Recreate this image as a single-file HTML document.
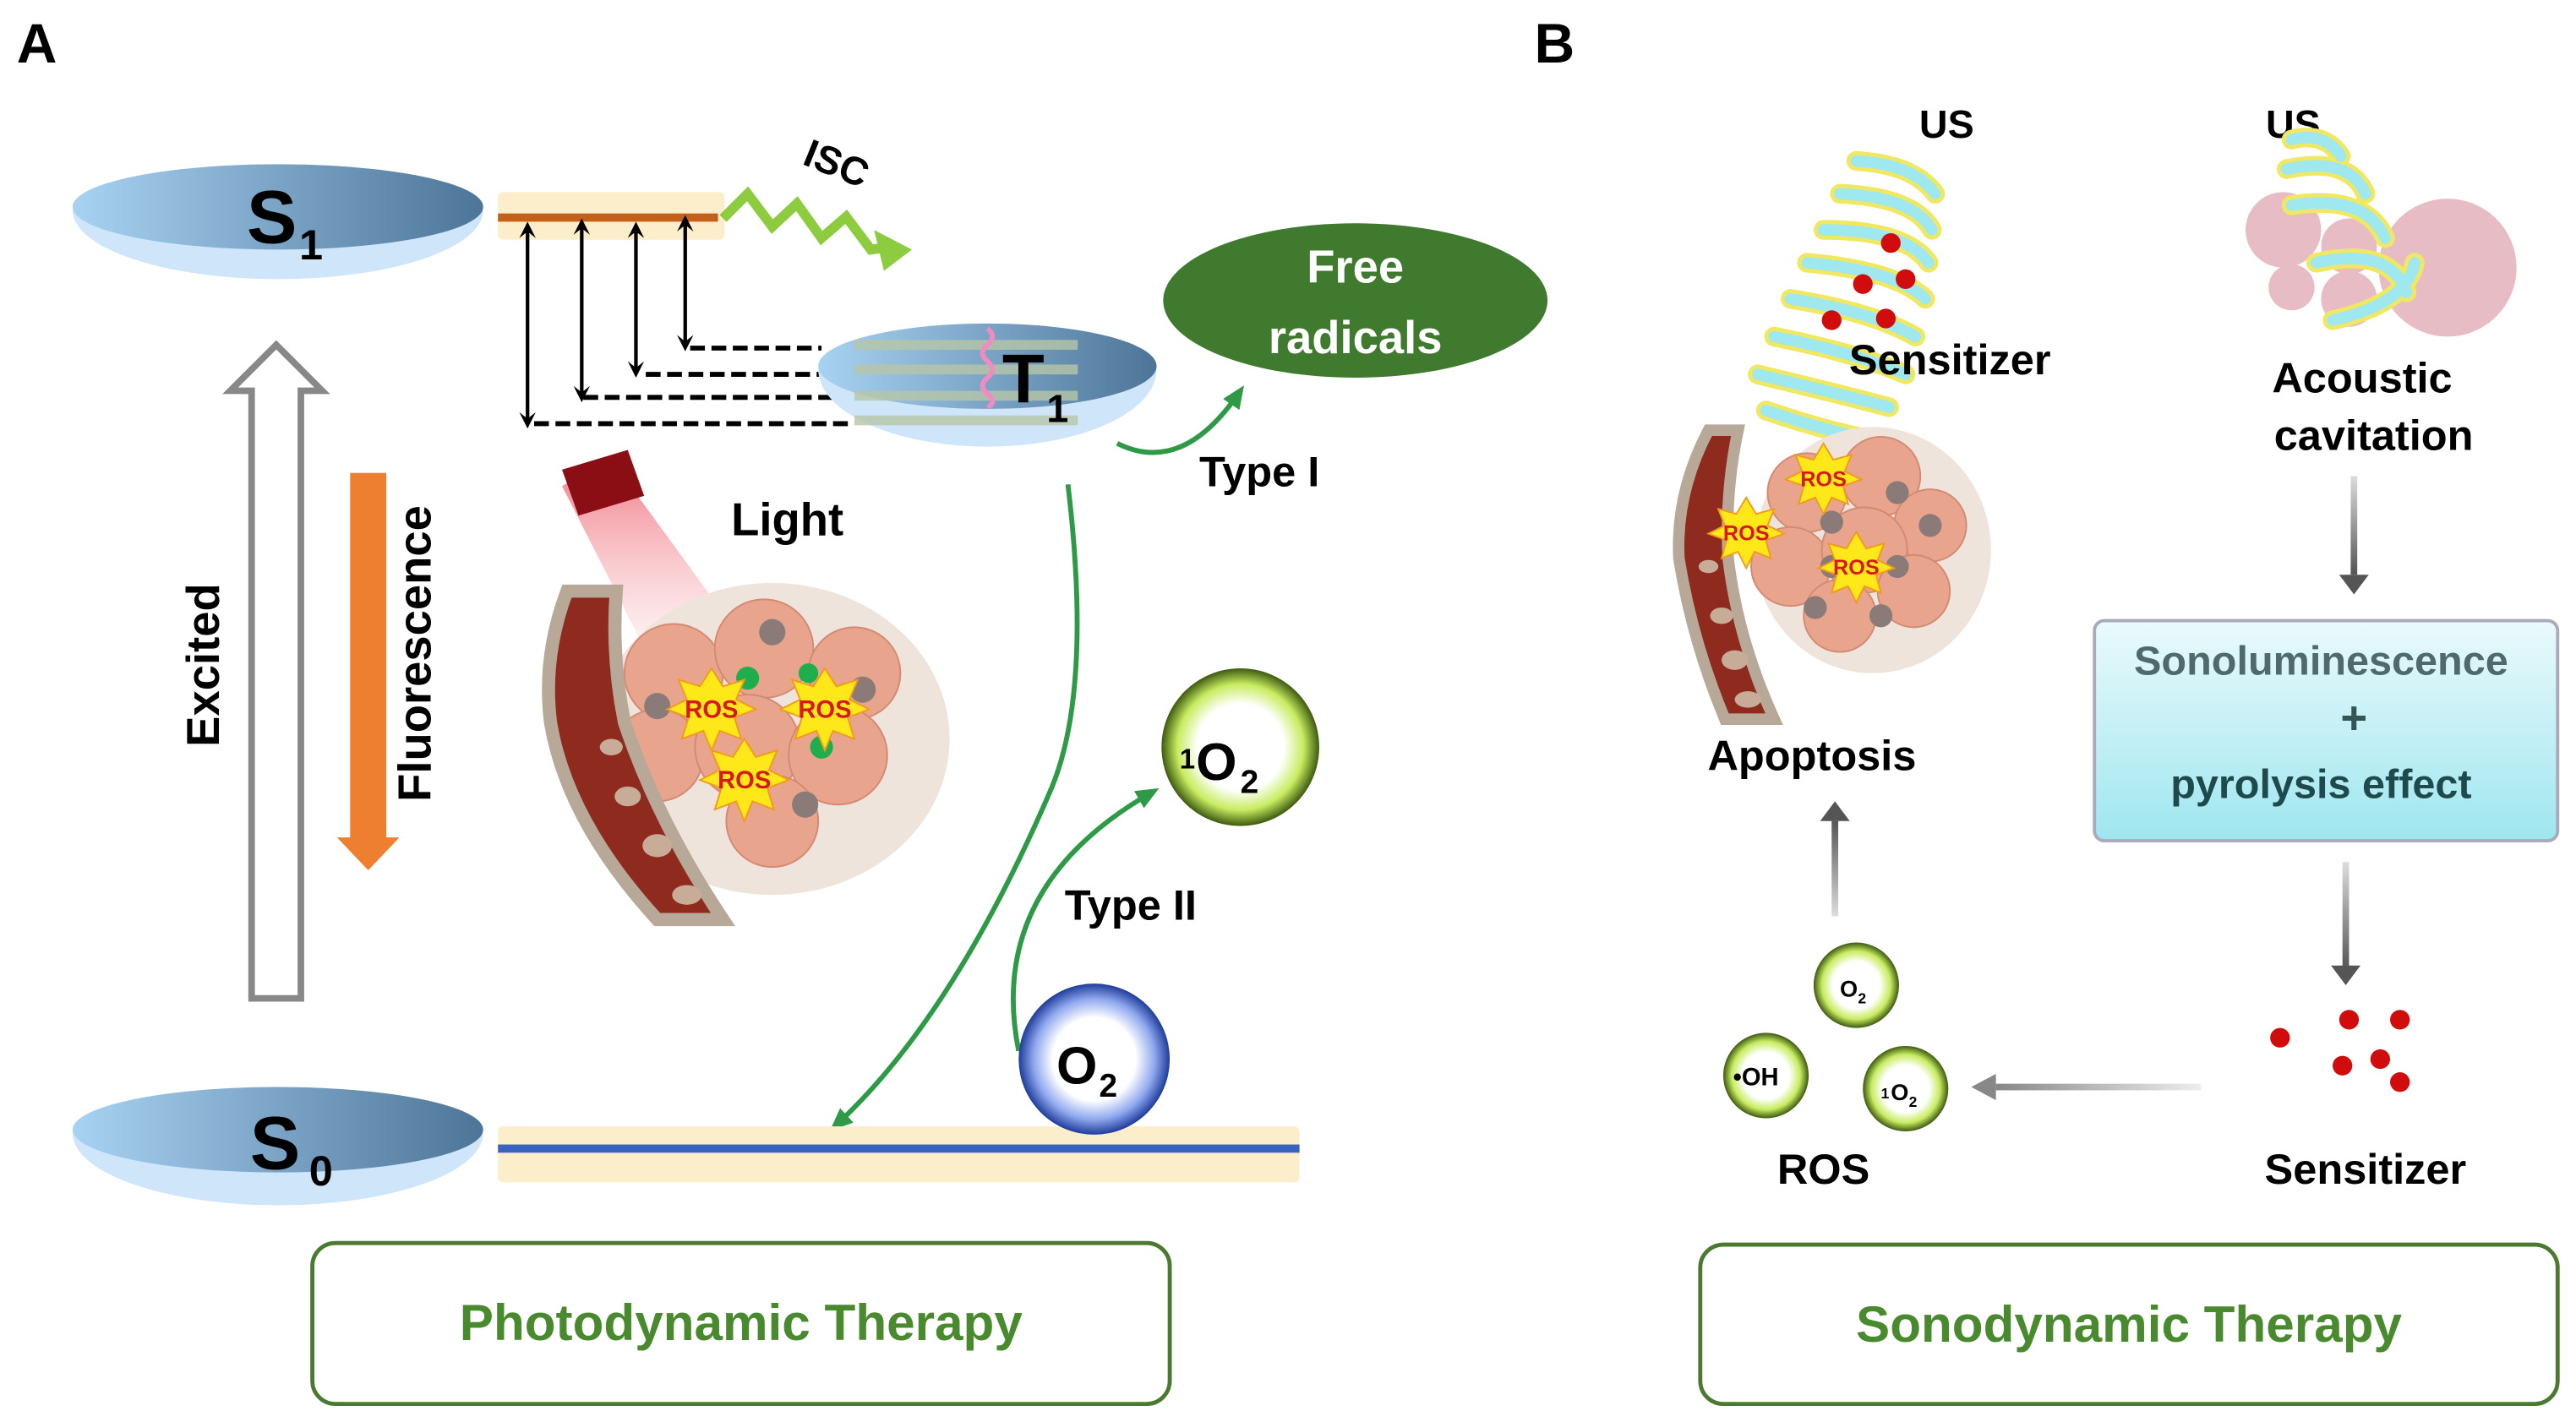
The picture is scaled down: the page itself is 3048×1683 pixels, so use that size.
<!DOCTYPE html>
<html><head><meta charset="utf-8"><style>
html,body{margin:0;padding:0;background:#fff;}
svg{display:block;}
text{font-family:"Liberation Sans",sans-serif;font-weight:bold;}
</style></head><body>
<svg width="3048" height="1683" viewBox="0 0 1568 866" xmlns="http://www.w3.org/2000/svg">
<defs>
<linearGradient id="eg" x1="0" x2="1"><stop offset="0" stop-color="#a8d2f2"/><stop offset="1" stop-color="#4d7598"/></linearGradient>
<radialGradient id="gs" cx="0.5" cy="0.5" r="0.5"><stop offset="0.55" stop-color="#fff"/><stop offset="0.8" stop-color="#c8ec60"/><stop offset="1" stop-color="#3d5a10"/></radialGradient>
<radialGradient id="bs" cx="0.5" cy="0.5" r="0.5"><stop offset="0.55" stop-color="#fff"/><stop offset="0.8" stop-color="#8fa8ef"/><stop offset="1" stop-color="#1f3c9a"/></radialGradient>
<linearGradient id="box" x1="0" y1="0" x2="0" y2="1"><stop offset="0" stop-color="#eafafc"/><stop offset="1" stop-color="#9fe6ef"/></linearGradient>
<linearGradient id="ga" x1="0" y1="0" x2="0" y2="1"><stop offset="0" stop-color="#ddd"/><stop offset="1" stop-color="#555"/></linearGradient>
<linearGradient id="gl" x1="1" y1="0" x2="0" y2="0"><stop offset="0" stop-color="#eee"/><stop offset="1" stop-color="#888"/></linearGradient>
<linearGradient id="beam" x1="0" y1="0" x2="0" y2="1"><stop offset="0" stop-color="#f07a85"/><stop offset="1" stop-color="#fde6e8" stop-opacity="0.3"/></linearGradient>
<marker id="ah" markerWidth="10" markerHeight="10" refX="5" refY="5" orient="auto-start-reverse" markerUnits="userSpaceOnUse"><path d="M0,0 L10,5 L0,10 L4,5 z" fill="#000"/></marker>
<marker id="gh" markerWidth="14" markerHeight="12" refX="10" refY="6" orient="auto" markerUnits="userSpaceOnUse"><path d="M0,0 L14,6 L0,12 z" fill="#2e9a48"/></marker>
</defs>

<text x="10" y="38" font-size="34">A</text>
<text x="934" y="38" font-size="34">B</text>

<path d="M44,128 A125,42 0 0 0 294,128 Z" fill="#cfe6fa"/>
<ellipse cx="169" cy="126" rx="125" ry="26" fill="url(#eg)"/>
<text x="150" y="148" font-size="46">S</text><text x="182" y="158" font-size="26">1</text>
<path d="M44,690 A125,44 0 0 0 294,690 Z" fill="#cfe6fa"/>
<ellipse cx="169" cy="688" rx="125" ry="26" fill="url(#eg)"/>
<text x="152" y="712" font-size="46">S</text><text x="188" y="722" font-size="26">0</text>

<rect x="303" y="117" width="138" height="29" rx="3" fill="#fdeecb"/>
<rect x="303" y="130" width="134" height="5" fill="#c4601a"/>
<path d="M440,133 L455,118 L470,138 L485,124 L500,145 L515,132 L530,152 L545,150" fill="none" stroke="#8ccc3e" stroke-width="6"/>
<path d="M532,140 L555,152 L538,165 z" fill="#8ccc3e"/>
<text x="485" y="107" font-size="24" transform="rotate(22 505 110)">ISC</text>

<g stroke="#000" stroke-width="2.2" marker-start="url(#ah)" marker-end="url(#ah)">
<line x1="321" y1="140" x2="321" y2="256"/>
<line x1="354" y1="138" x2="354" y2="240"/>
<line x1="387" y1="140" x2="387" y2="225"/>
<line x1="417" y1="136" x2="417" y2="209"/>
</g>
<g stroke="#000" stroke-width="3" stroke-dasharray="9,4">
<line x1="325" y1="258" x2="518" y2="258"/>
<line x1="355" y1="242" x2="512" y2="242"/>
<line x1="393" y1="228" x2="505" y2="228"/>
<line x1="420" y1="212" x2="500" y2="212"/>
</g>
<path d="M498,225 A103,47 0 0 0 704,225 Z" fill="#cfe6fa"/>
<ellipse cx="601" cy="223" rx="103" ry="26" fill="url(#eg)"/>
<g fill="#b7c6a8" opacity="0.8">
<rect x="520" y="207" width="136" height="6"/><rect x="520" y="222" width="136" height="6"/><rect x="520" y="238" width="136" height="6"/><rect x="520" y="253" width="136" height="6"/>
</g>
<path d="M601,200 q6,5 0,10 q-6,5 0,10 q6,5 0,10 q-6,5 0,10 q6,5 0,8" fill="none" stroke="#f08cc0" stroke-width="3"/>
<text x="610" y="245" font-size="42">T</text><text x="637" y="257" font-size="24">1</text>

<ellipse cx="825" cy="183" rx="117" ry="47" fill="#3f7a2e"/>
<text x="825" y="172" font-size="28" fill="#fff" text-anchor="middle">Free</text>
<text x="825" y="215" font-size="28" fill="#fff" text-anchor="middle">radicals</text>
<path d="M680,270 Q720,290 755,238" fill="none" stroke="#2e9a48" stroke-width="3" marker-end="url(#gh)"/>
<text x="730" y="296" font-size="26">Type I</text>

<path d="M650,295 Q665,420 640,480 Q580,620 508,686" fill="none" stroke="#2e9a48" stroke-width="3" marker-end="url(#gh)"/>
<path d="M620,640 Q600,540 702,482" fill="none" stroke="#2e9a48" stroke-width="3" marker-end="url(#gh)"/>
<text x="648" y="560" font-size="26">Type II</text>

<circle cx="755" cy="455" r="48" fill="url(#gs)"/>
<text x="718" y="468" font-size="17">1</text><text x="728" y="475" font-size="32">O</text><text x="755" y="483" font-size="20">2</text>
<rect x="303" y="686" width="488" height="34" rx="3" fill="#fdeecb"/>
<rect x="303" y="697" width="488" height="5" fill="#3a62c0"/>
<circle cx="666" cy="645" r="46" fill="url(#bs)"/>
<text x="643" y="660" font-size="32">O</text><text x="669" y="668" font-size="20">2</text>

<path d="M153,608 L153,238 L140,238 L168,210 L196,238 L183,238 L183,608 Z" fill="#fff" stroke="#888" stroke-width="4"/>
<text x="0" y="0" font-size="28" transform="translate(133,405) rotate(-90)" text-anchor="middle">Excited</text>
<rect x="213" y="288" width="22" height="225" fill="#ee7f30"/>
<path d="M205,510 L243,510 L224,530 z" fill="#ee7f30"/>
<text x="0" y="0" font-size="28" transform="translate(262,398) rotate(-90)" text-anchor="middle">Fluorescence</text>

<path d="M342,296 L372,280 L445,380 L400,410 Z" fill="url(#beam)"/>
<path d="M342,286 L382,274 L392,302 L352,314 Z" fill="#8a0e14"/>
<text x="445" y="326" font-size="28">Light</text>
<ellipse cx="470" cy="450" rx="108" ry="95" fill="#efe4dc"/>
<g fill="#e8a48c" stroke="#d48a72" stroke-width="1">
<circle cx="410" cy="410" r="30"/><circle cx="465" cy="395" r="30"/><circle cx="520" cy="410" r="28"/>
<circle cx="400" cy="460" r="28"/><circle cx="455" cy="455" r="32"/><circle cx="510" cy="460" r="30"/><circle cx="470" cy="500" r="28"/>
</g>
<g fill="#8a7a78"><circle cx="400" cy="430" r="8"/><circle cx="470" cy="385" r="8"/><circle cx="525" cy="420" r="8"/><circle cx="385" cy="470" r="8"/><circle cx="490" cy="490" r="8"/><circle cx="445" cy="480" r="7"/></g>
<g fill="#1fae4c"><circle cx="455" cy="413" r="7"/><circle cx="500" cy="455" r="7"/><circle cx="492" cy="410" r="6"/></g>
<path d="M345,360 Q330,400 335,440 Q345,500 400,560 L440,560 Q400,500 380,440 Q372,400 375,360 Z" fill="#8e2a1e" stroke="#b8a898" stroke-width="8"/>
<g fill="#c8ac98"><ellipse cx="372" cy="455" rx="7" ry="5"/><ellipse cx="382" cy="485" rx="8" ry="6"/><ellipse cx="400" cy="515" rx="9" ry="7"/><ellipse cx="418" cy="545" rx="9" ry="6"/></g>
<g font-size="15" fill="#d5191c" text-anchor="middle">
<polygon points="433,407 440,418 453,414 448,426 460,432 447,437 451,450 438,445 433,457 428,445 415,450 419,437 406,432 418,426 413,414 426,418" fill="#ffe81a" stroke="#f39a1a"/><text x="433" y="437">ROS</text>
<polygon points="502,407 509,418 522,414 517,426 529,432 516,437 520,450 507,445 502,457 497,445 484,450 488,437 475,432 487,426 482,414 495,418" fill="#ffe81a" stroke="#f39a1a"/><text x="502" y="437">ROS</text>
<polygon points="453,450 460,461 473,457 468,469 480,475 467,480 471,493 458,488 453,500 448,488 435,493 439,480 426,475 438,469 433,457 446,461" fill="#ffe81a" stroke="#f39a1a"/><text x="453" y="480">ROS</text>
</g>

<rect x="190" y="757" width="522" height="98" rx="14" fill="#fff" stroke="#4a7a30" stroke-width="2.5"/>
<text x="451" y="816" font-size="31" fill="#4a8a2e" text-anchor="middle">Photodynamic Therapy</text>

<text x="1185" y="84" font-size="24" text-anchor="middle">US</text>
<text x="1396" y="84" font-size="24" text-anchor="middle">US</text>
<g fill="none" stroke="#f0e860" stroke-width="12" stroke-linecap="round">
<path d="M1130,98 Q1165,100 1178,118"/><path d="M1120,118 Q1165,120 1176,140"/><path d="M1110,140 Q1160,140 1174,160"/><path d="M1100,160 Q1155,165 1172,182"/><path d="M1090,182 Q1140,190 1166,205"/><path d="M1080,205 Q1130,215 1160,228"/><path d="M1070,228 Q1120,240 1150,248"/><path d="M1075,250 Q1110,262 1140,268"/></g>
<g fill="none" stroke="#9fe8ef" stroke-width="7" stroke-linecap="round">
<path d="M1130,98 Q1165,100 1178,118"/><path d="M1120,118 Q1165,120 1176,140"/><path d="M1110,140 Q1160,140 1174,160"/><path d="M1100,160 Q1155,165 1172,182"/><path d="M1090,182 Q1140,190 1166,205"/><path d="M1080,205 Q1130,215 1160,228"/><path d="M1070,228 Q1120,240 1150,248"/><path d="M1075,250 Q1110,262 1140,268"/></g>
<g fill="#d10c0c"><circle cx="1151" cy="148" r="6"/><circle cx="1134" cy="173" r="6"/><circle cx="1160" cy="170" r="6"/><circle cx="1115" cy="195" r="6"/><circle cx="1148" cy="194" r="6"/></g>
<text x="1187" y="228" font-size="26" text-anchor="middle">Sensitizer</text>

<g fill="#e8bcc4"><circle cx="1490" cy="163" r="42"/><circle cx="1390" cy="140" r="23"/><circle cx="1430" cy="150" r="17"/><circle cx="1395" cy="175" r="14"/><circle cx="1430" cy="182" r="17"/></g>
<g fill="none" stroke="#f0e860" stroke-width="12" stroke-linecap="round">
<path d="M1395,85 Q1415,80 1425,95"/><path d="M1392,103 Q1430,95 1440,118"/><path d="M1395,125 Q1440,118 1452,145"/><path d="M1410,160 Q1455,150 1465,178"/><path d="M1420,195 Q1465,185 1470,160"/></g>
<g fill="none" stroke="#9fe8ef" stroke-width="7" stroke-linecap="round">
<path d="M1395,85 Q1415,80 1425,95"/><path d="M1392,103 Q1430,95 1440,118"/><path d="M1395,125 Q1440,118 1452,145"/><path d="M1410,160 Q1455,150 1465,178"/><path d="M1420,195 Q1465,185 1470,160"/></g>
<text x="1438" y="239" font-size="26" text-anchor="middle">Acoustic</text>
<text x="1445" y="274" font-size="26" text-anchor="middle">cavitation</text>

<ellipse cx="1140" cy="335" rx="72" ry="75" fill="#efe4dc"/>
<g fill="#e8a48c" stroke="#d48a72"><circle cx="1100" cy="300" r="24"/><circle cx="1145" cy="290" r="24"/><circle cx="1175" cy="320" r="22"/><circle cx="1090" cy="345" r="24"/><circle cx="1135" cy="335" r="26"/><circle cx="1120" cy="375" r="22"/><circle cx="1165" cy="360" r="22"/></g>
<g fill="#8a7a78"><circle cx="1115" cy="318" r="7"/><circle cx="1155" cy="300" r="7"/><circle cx="1175" cy="320" r="7"/><circle cx="1115" cy="345" r="7"/><circle cx="1155" cy="345" r="7"/><circle cx="1105" cy="370" r="7"/><circle cx="1145" cy="375" r="7"/></g>
<path d="M1040,262 Q1020,300 1022,340 Q1030,390 1050,438 L1080,438 Q1058,390 1052,340 Q1050,300 1058,262 Z" fill="#8e2a1e" stroke="#b8a898" stroke-width="7"/>
<g fill="#c8ac98"><ellipse cx="1040" cy="345" rx="6" ry="4"/><ellipse cx="1048" cy="375" rx="7" ry="5"/><ellipse cx="1056" cy="402" rx="8" ry="6"/><ellipse cx="1064" cy="426" rx="8" ry="5"/></g>
<g font-size="13" fill="#d5191c" text-anchor="middle">
<polygon points="1110,270 1116,280 1127,277 1123,287 1133,292 1122,296 1125,307 1115,303 1110,313 1105,303 1095,307 1098,296 1087,292 1097,287 1093,277 1104,280" fill="#ffe81a" stroke="#f39a1a"/><text x="1110" y="296">ROS</text>
<polygon points="1063,303 1069,313 1080,310 1076,320 1086,325 1075,329 1078,340 1068,336 1063,346 1058,336 1048,340 1051,329 1040,325 1050,320 1046,310 1057,313" fill="#ffe81a" stroke="#f39a1a"/><text x="1063" y="329">ROS</text>
<polygon points="1130,324 1136,334 1147,331 1143,341 1153,346 1142,350 1145,361 1135,357 1130,367 1125,357 1115,361 1118,350 1107,346 1117,341 1113,331 1124,334" fill="#ffe81a" stroke="#f39a1a"/><text x="1130" y="350">ROS</text>
</g>
<text x="1103" y="469" font-size="26" text-anchor="middle">Apoptosis</text>

<rect x="1431" y="290" width="4" height="60" fill="url(#ga)"/><path d="M1424,350 L1442,350 L1433,362 z" fill="#555"/>
<rect x="1426" y="525" width="4" height="65" fill="url(#ga)"/><path d="M1419,588 L1437,588 L1428,600 z" fill="#555"/>
<rect x="1115" y="500" width="4" height="58" fill="url(#ga)" transform="rotate(180 1117 529)"/><path d="M1108,500 L1126,500 L1117,488 z" fill="#555"/>
<rect x="1215" y="660" width="125" height="4" fill="url(#gl)"/><path d="M1215,654 L1215,670 L1200,662 z" fill="#888"/>

<rect x="1275" y="378" width="282" height="134" rx="6" fill="url(#box)" stroke="#aab" stroke-width="2"/>
<text x="1413" y="411" font-size="25" fill="#4e6a6c" text-anchor="middle">Sonoluminescence</text>
<text x="1433" y="447" font-size="28" fill="#355" text-anchor="middle">+</text>
<text x="1413" y="486" font-size="25" fill="#1e4a4e" text-anchor="middle">pyrolysis effect</text>

<g fill="#d10c0c"><circle cx="1388" cy="632" r="6"/><circle cx="1430" cy="621" r="6"/><circle cx="1461" cy="621" r="6"/><circle cx="1426" cy="649" r="6"/><circle cx="1449" cy="645" r="6"/><circle cx="1461" cy="659" r="6"/></g>
<text x="1440" y="721" font-size="26" text-anchor="middle">Sensitizer</text>

<circle cx="1130" cy="600" r="26" fill="url(#gs)"/><text x="1120" y="607" font-size="14">O</text><text x="1131" y="611" font-size="9">2</text>
<circle cx="1075" cy="655" r="26" fill="url(#gs)"/><text x="1055" y="661" font-size="15">•OH</text>
<circle cx="1160" cy="663" r="26" fill="url(#gs)"/><text x="1145" y="669" font-size="9">1</text><text x="1151" y="670" font-size="14">O</text><text x="1162" y="674" font-size="9">2</text>
<text x="1110" y="721" font-size="26" text-anchor="middle">ROS</text>

<rect x="1035" y="758" width="522" height="97" rx="14" fill="#fff" stroke="#4a7a30" stroke-width="2.5"/>
<text x="1296" y="817" font-size="31" fill="#4a8a2e" text-anchor="middle">Sonodynamic Therapy</text>
</svg>
</body></html>
